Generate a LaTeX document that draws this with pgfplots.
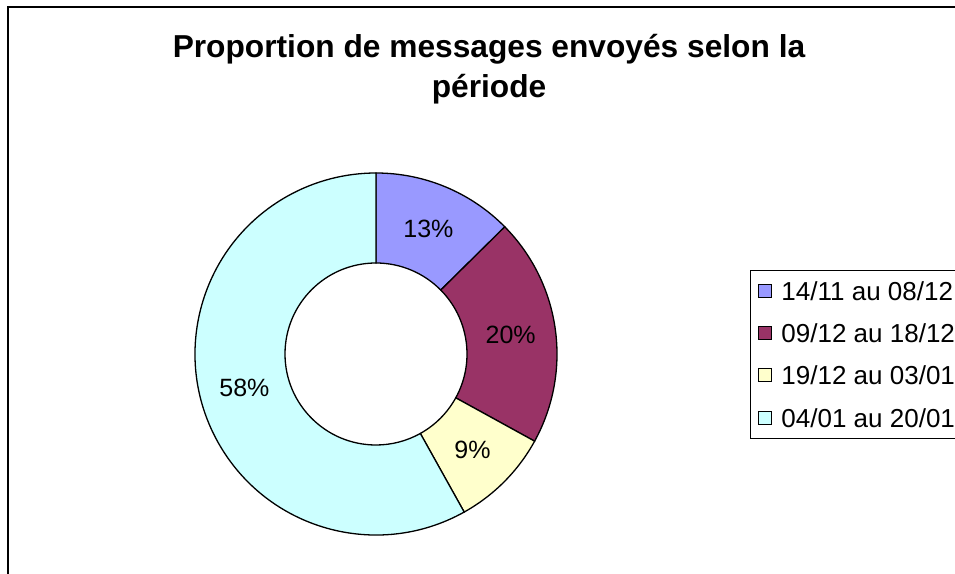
\documentclass[border=0pt]{standalone}
\usepackage{pgfplots}
\pgfplotsset{compat=1.18}
\usepackage{pgfplotstable}
\usepackage{fontspec}
\setmainfont{Liberation Sans}

\definecolor{perA}{HTML}{9999FF}
\definecolor{perB}{HTML}{993366}
\definecolor{perC}{HTML}{FFFFCC}
\definecolor{perD}{HTML}{CCFFFF}

% share of messages per period, in percent
\pgfplotstableread{
value
12.6
20.4
8.9
58.1
}\shares

\newcommand\getshare[2]{\pgfplotstablegetelem{#1}{value}\of\shares\let#2\pgfplotsretval}
% one ring segment: start angle, end angle, colour, value
\newcommand\ringslice[4]{%
  \fill[#3, draw=black, line width=1.3bp]
    (axis cs:{181*cos(#1)},{181*sin(#1)}) arc[start angle=#1, end angle=#2, radius=181bp]
    -- (axis cs:{91*cos(#2)},{91*sin(#2)}) arc[start angle=#2, end angle=#1, radius=91bp] -- cycle;
  \node[font=\fontsize{25bp}{30bp}\selectfont]
    at (axis cs:{136*cos((#1+#2)/2)},{136*sin((#1+#2)/2)})
    {\pgfmathprintnumber[fixed,precision=0,assume math mode=true]{#4}\%};}

\begin{document}
\begin{tikzpicture}
\useasboundingbox (0,0) rectangle (955bp,574bp);
\clip (0,0) rectangle (955bp,574bp);
\getshare{0}\vA \getshare{1}\vB \getshare{2}\vC \getshare{3}\vD
\pgfmathsetmacro\tA{90}
\pgfmathsetmacro\tB{\tA-3.6*\vA}
\pgfmathsetmacro\tC{\tB-3.6*\vB}
\pgfmathsetmacro\tD{\tC-3.6*\vC}
\pgfmathsetmacro\tE{\tD-3.6*\vD}
\draw[line width=2bp] (7.5bp,-5bp) |- (965bp,567bp);
\begin{axis}[
  width=955bp, height=574bp, scale only axis,
  hide axis,
  xmin=-376, xmax=579, ymin=-220, ymax=354,
  clip=false,
  legend cell align=left,
  legend image code/.code={\draw[#1, line width=1bp] (0bp,-6.5bp) rectangle (13bp,6.5bp);},
  legend style={at={(axis description cs:0.7853,0.5296)}, anchor=north west,
    draw=black, line width=1bp,
    font=\fontsize{26bp}{31bp}\selectfont,
    inner xsep=8bp, inner ysep=11bp, row sep=23.7bp, column sep=9bp,
    nodes={inner sep=0pt, text height=18.6bp, text depth=0pt}},
]
\ringslice{\tA}{\tB}{perA}{\vA}
\ringslice{\tB}{\tC}{perB}{\vB}
\ringslice{\tC}{\tD}{perC}{\vC}
\ringslice{\tD}{\tE}{perD}{\vD}
\addlegendimage{fill=perA, draw=black}
\addlegendentry{14/11 au 08/12}
\addlegendimage{fill=perB, draw=black}
\addlegendentry{09/12 au 18/12}
\addlegendimage{fill=perC, draw=black}
\addlegendentry{19/12 au 03/01}
\addlegendimage{fill=perD, draw=black}
\addlegendentry{04/01 au 20/01}
\node[anchor=base, font=\fontsize{31.7bp}{38bp}\selectfont\bfseries]
  at (axis cs:113,296) {Proportion de messages envoyés selon la};
\node[anchor=base, font=\fontsize{31.7bp}{38bp}\selectfont\bfseries]
  at (axis cs:113,256) {période};
\end{axis}
\end{tikzpicture}
\end{document}
